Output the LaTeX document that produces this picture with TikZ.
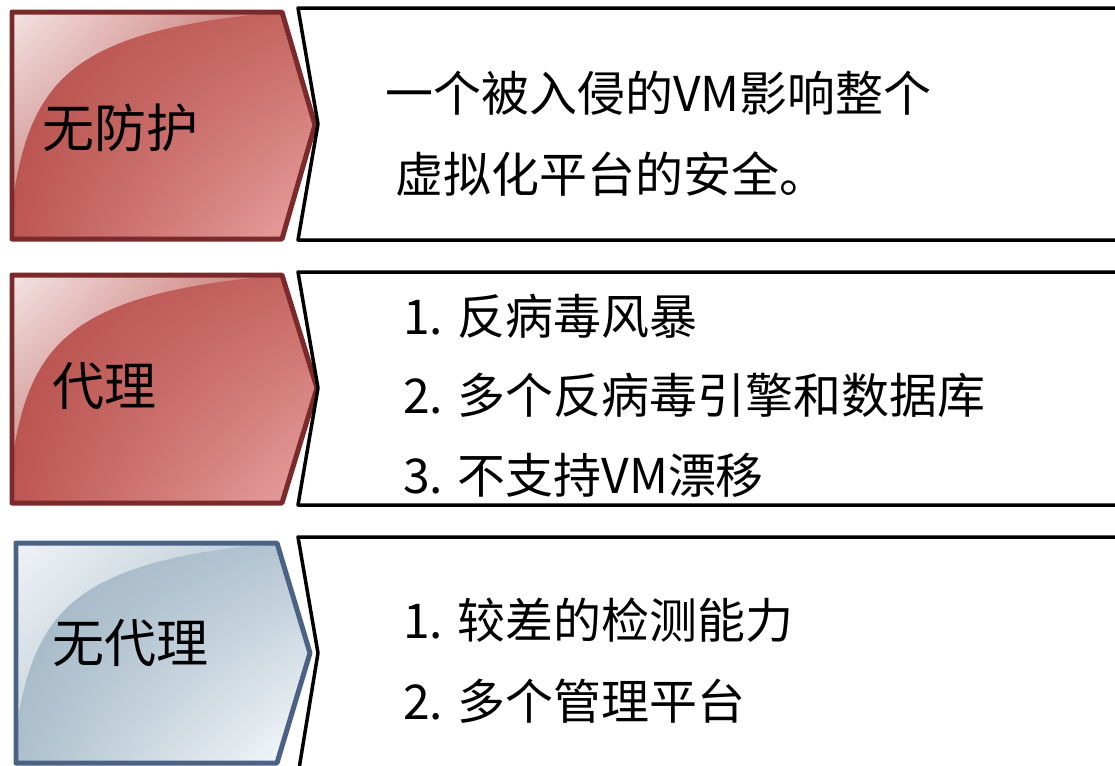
\documentclass[tikz,border=0pt]{standalone}
\usepackage{fontspec}
\setmainfont{Noto Sans CJK SC}
\usetikzlibrary{shadings}

\begin{document}
\begin{tikzpicture}[x=0.02cm, y=-0.02cm, line join=round, line cap=round,
		redtab/.style={draw=rededge, line width=0.1cm, upper left=redUL, upper right=redUR, lower left=redLL, lower right=redLR},
		bluetab/.style={draw=blueedge, line width=0.1cm, upper left=blueUL, upper right=blueUR, lower left=blueLL, lower right=blueLR},
		redgloss/.style={upper left=rglossA, upper right=rglossB, lower left=rglossC, lower right=redUL},
		bluegloss/.style={upper left=bglossA, upper right=bglossB, lower left=bglossC, lower right=blueUL},
		textbox/.style={draw=black, line width=0.07cm, fill=white},
		tablabel/.style={font=\fontsize{29.6}{34}\selectfont, anchor=west, inner sep=0pt},
		item/.style={font=\fontsize{27.3}{32}\selectfont, anchor=west, inner sep=0pt}]
		
		% Colours
		\definecolor{rededge}{RGB}{123,42,44}
		\definecolor{redUL}{RGB}{181,78,74}
		\definecolor{redUR}{RGB}{198,103,98}
		\definecolor{redLL}{RGB}{189,87,82}
		\definecolor{redLR}{RGB}{233,163,163}
		\definecolor{rglossA}{RGB}{244,228,228}
		\definecolor{rglossB}{RGB}{196,106,100}
		\definecolor{rglossC}{RGB}{201,132,128}
		\definecolor{blueedge}{RGB}{75,98,132}
		\definecolor{blueUL}{RGB}{157,178,194}
		\definecolor{blueUR}{RGB}{181,198,211}
		\definecolor{blueLL}{RGB}{173,192,205}
		\definecolor{blueLR}{RGB}{250,252,253}
		\definecolor{bglossA}{RGB}{240,243,246}
		\definecolor{bglossB}{RGB}{182,199,211}
		\definecolor{bglossC}{RGB}{196,209,219}
		
		% Frame of the picture
		\useasboundingbox (0,0) rectangle (1115,765);
		\clip (0,0) rectangle (1115,765);
		
		% 1. Row one: no protection
		\shadedraw[redtab, path picture={\shade[redgloss] (12,12) -- (12,205) .. controls (30,80) and (70,30) .. (282,12) -- cycle;}]
			(12,12) -- (282,12) -- (315,125) -- (282,239) -- (12,239) -- cycle;
		\draw[textbox] (298,8) -- (1130,8) -- (1130,240) -- (298,240) -- (318,124) -- cycle;
		\node[tablabel] (noprot) at (42,128) {无防护};
		\node[item] (noprotA) at (385,93) {一个被入侵的VM影响整个};
		\node[item] (noprotB) at (395,174) {虚拟化平台的安全。};
		
		% 2. Row two: agent
		\shadedraw[redtab, path picture={\shade[redgloss] (12,275) -- (12,460) .. controls (30,343) and (70,293) .. (282,275) -- cycle;}]
			(12,275) -- (282,275) -- (317,388) -- (282,503) -- (12,503) -- cycle;
		\draw[textbox] (298,272) -- (1130,272) -- (1130,505) -- (298,505) -- (318,388) -- cycle;
		\node[tablabel] (agent) at (52,386) {代理};
		\node[item] (agentA) at (403,316) {1. 反病毒风暴};
		\node[item] (agentB) at (403,395) {2. 多个反病毒引擎和数据库};
		\node[item] (agentC) at (403,475) {3. 不支持VM漂移};
		
		% 3. Row three: agentless
		\shadedraw[bluetab, path picture={\shade[bluegloss] (16,543) -- (16,730) .. controls (34,611) and (74,561) .. (277,543) -- cycle;}]
			(16,543) -- (277,543) -- (310,653) -- (277,763) -- (16,763) -- cycle;
		\draw[textbox] (298,537) -- (1130,537) -- (1130,775) -- (298,775) -- (318,653) -- cycle;
		\node[tablabel] (agentless) at (52,643) {无代理};
		\node[item] (agentlessA) at (403,620) {1. 较差的检测能力};
		\node[item] (agentlessB) at (403,701) {2. 多个管理平台};
		
	\end{tikzpicture}
\end{document}
